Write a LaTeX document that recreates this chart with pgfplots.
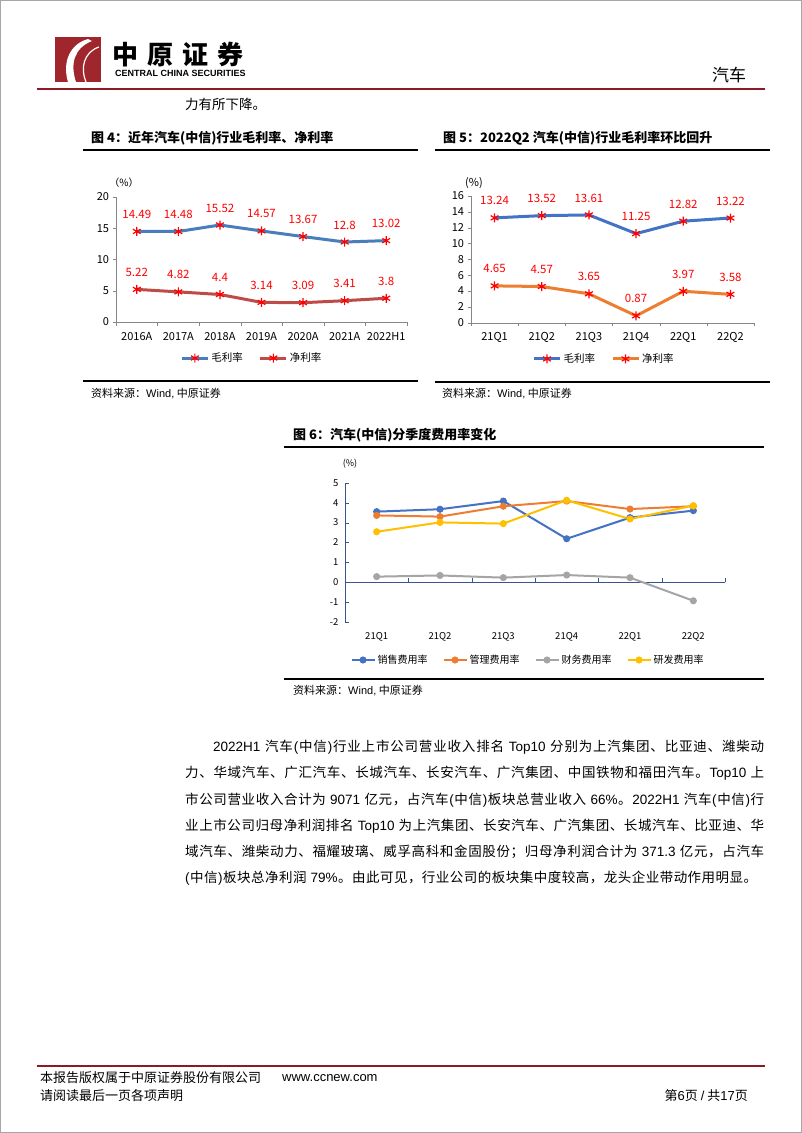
\documentclass[border=0pt]{standalone}
\usepackage{fontspec}
\usepackage{pgfplots}
\pgfplotsset{compat=1.18}
\usepackage{graphicx}
\setmainfont{Noto Sans CJK SC}
\newfontfamily\lat{Liberation Sans}
\definecolor{hdred}{RGB}{140,26,36}
\definecolor{logored}{RGB}{160,38,46}
\definecolor{c4blue}{RGB}{74,126,187}
\definecolor{c4red}{RGB}{190,75,72}
\definecolor{c5blue}{RGB}{68,114,196}
\definecolor{c5orange}{RGB}{237,125,49}
\definecolor{c6gray}{RGB}{165,165,165}
\definecolor{c6yellow}{RGB}{255,192,0}
\definecolor{axgray}{RGB}{134,134,134}
\definecolor{ax6}{RGB}{55,85,145}
\definecolor{lblred}{RGB}{255,0,0}
\newcommand{\fs}[1]{\fontsize{#1}{#1}\selectfont}
\def\spread#1{\spaux#1\relax}
\def\spaux#1{\ifx\relax#1\else{#1}\hskip0pt plus 1fil\relax\expandafter\spaux\fi}
\newcommand{\jline}[2]{\hbox to #1{\spread{#2}\unskip}}
\pgfplotsset{
  topchart/.style={
    scale only axis, anchor=south west,
    axis x line*=bottom, axis y line*=left,
    axis line style={axgray,-}, tick style={axgray},
    tick align=outside, major tick length=3.5pt,
    x tick label as interval,
    xticklabel style={yshift=-3pt},
    /pgf/number format/assume math mode=true,
    tick label style={font=\fs{11}},
    point meta=explicit symbolic,
    nodes near coords,
    every node near coord/.append style={font=\fs{11.5}, text=lblred, anchor=center, yshift=17pt},
    legend style={draw=none, fill=none, legend columns=-1, font=\fs{10.5},
      /tikz/every even column/.append style={column sep=14pt}},
    legend image code/.code={\draw[mark repeat=2,mark phase=2,##1] plot coordinates {(0pt,0pt)(13pt,0pt)(26pt,0pt)};},
    clip=false,
  },
  astline/.style={line width=3pt, mark=asterisk, mark size=4.5pt, mark options={lblred, line width=1.2pt}},
}
\begin{document}
\begin{tikzpicture}
\path[use as bounding box] (0,0) rectangle (802pt,-1133pt);
\fill[white] (0,0) rectangle (802pt,-1133pt);
\draw[gray!70, line width=1pt] (0.5pt,-0.5pt) rectangle (801.5pt,-1132.5pt);
% ---- header
\fill[logored] (55pt,-37pt) rectangle (101pt,-82pt);
\fill[white] (88pt,-39pt) .. controls (70pt,-44pt) and (62pt,-62pt) .. (68pt,-82pt) -- (76pt,-82pt) .. controls (70pt,-64pt) and (74pt,-48pt) .. (92pt,-41pt) -- cycle;
\draw[white, line width=1.2pt] (99pt,-47pt) .. controls (84pt,-52pt) and (80pt,-68pt) .. (86pt,-82pt);
\node[anchor=west, inner sep=0pt, font=\fs{26}\bfseries] at (112pt,-55pt) {中\hspace{9pt}原\hspace{9pt}证\hspace{9pt}券};
\node[anchor=west, inner sep=0pt, font=\lat\bfseries\fs{9}] at (115pt,-73.5pt) {CENTRAL CHINA SECURITIES};
\node[inner sep=0pt, font=\fs{17}] at (729pt,-75pt) {汽车};
\draw[hdred, line width=2.5pt] (37pt,-89pt) -- (765pt,-89pt);
\node[anchor=west, inner sep=0pt, font=\fs{13.5}] at (185pt,-104pt) {力有所下降。};
% ---- titles and rules
\node[anchor=west, inner sep=0pt, font=\fs{13}\bfseries] at (91pt,-138pt) {图 4：近年汽车(中信)行业毛利率、净利率};
\draw[black, line width=1.6pt] (83pt,-150pt) -- (418pt,-150pt);
\draw[black, line width=1.6pt] (83pt,-381pt) -- (418pt,-381pt);
\node[anchor=west, inner sep=0pt, font=\fs{11}] at (91pt,-394pt) {资料来源：{\lat Wind,} 中原证券};
\node[anchor=west, inner sep=0pt, font=\fs{13}\bfseries] at (443pt,-138pt) {图 5：2022Q2 汽车(中信)行业毛利率环比回升};
\draw[black, line width=1.6pt] (435pt,-150pt) -- (770pt,-150pt);
\draw[black, line width=1.6pt] (435pt,-382pt) -- (770pt,-382pt);
\node[anchor=west, inner sep=0pt, font=\fs{11}] at (442pt,-394pt) {资料来源：{\lat Wind,} 中原证券};
\node[anchor=west, inner sep=0pt, font=\fs{13}\bfseries] at (293pt,-435pt) {图 6：汽车(中信)分季度费用率变化};
\draw[black, line width=1.6pt] (284pt,-447pt) -- (764pt,-447pt);
\draw[black, line width=1.6pt] (284pt,-679pt) -- (764pt,-679pt);
\node[anchor=west, inner sep=0pt, font=\fs{11}] at (293pt,-691pt) {资料来源：{\lat Wind,} 中原证券};
\node[font=\fs{10}] at (124pt,-183pt) {（\%）};
\node[font=\fs{11}] at (474pt,-183pt) {(\%)};
\node[font=\fs{9}] at (350pt,-464pt) {(\%)};
% ---- chart 4
\begin{axis}[topchart, at={(116pt,-322pt)}, width=291pt, height=125pt,
  xmin=-0.5, xmax=6.5, ymin=0, ymax=20, ytick={0,5,10,15,20},
  xtick={-0.5,0.5,1.5,2.5,3.5,4.5,5.5,6.5},
  xticklabels={2016A,2017A,2018A,2019A,2020A,2021A,2022H1},
  legend style={at={(0.467,-0.288)}, anchor=center}]
\addplot[c4blue, astline] coordinates {(0,14.49)[14.49] (1,14.48)[14.48] (2,15.52)[15.52] (3,14.57)[14.57] (4,13.67)[13.67] (5,12.8)[12.8] (6,13.02)[13.02]};
\addlegendentry{毛利率}
\addplot[c4red, astline] coordinates {(0,5.22)[5.22] (1,4.82)[4.82] (2,4.4)[4.4] (3,3.14)[3.14] (4,3.09)[3.09] (5,3.41)[3.41] (6,3.8)[3.8]};
\addlegendentry{净利率}
\end{axis}
% ---- chart 5
\begin{axis}[topchart, at={(471pt,-322.7pt)}, width=283pt, height=126.7pt,
  xmin=-0.5, xmax=5.5, ymin=0, ymax=16, ytick={0,2,4,6,8,10,12,14,16},
  xtick={-0.5,0.5,1.5,2.5,3.5,4.5,5.5},
  xticklabels={21Q1,21Q2,21Q3,21Q4,22Q1,22Q2},
  legend style={at={(0.47,-0.286)}, anchor=center}]
\addplot[c5blue, astline] coordinates {(0,13.24)[13.24] (1,13.52)[13.52] (2,13.61)[13.61] (3,11.25)[11.25] (4,12.82)[12.82] (5,13.22)[13.22]};
\addlegendentry{毛利率}
\addplot[c5orange, astline] coordinates {(0,4.65)[4.65] (1,4.57)[4.57] (2,3.65)[3.65] (3,0.87)[0.87] (4,3.97)[3.97] (5,3.58)[3.58]};
\addlegendentry{净利率}
\end{axis}
% ---- chart 6
\begin{axis}[scale only axis, anchor=south west, at={(345pt,-622.3pt)}, width=380pt, height=139.6pt,
  xmin=-0.5, xmax=5.5, ymin=-2, ymax=5, ytick={-2,-1,0,1,2,3,4,5},
  xtick={-0.5,0.5,1.5,2.5,3.5,4.5,5.5}, x tick label as interval,
  xticklabels={21Q1,21Q2,21Q3,21Q4,22Q1,22Q2},
  axis x line*=middle, axis y line*=left, axis line style={ax6,-}, tick style={ax6},
  tick align=inside, major tick length=4pt,
  hide obscured x ticks=false, hide obscured y ticks=false,
  xticklabel style={yshift=-46pt},
  yticklabel style={xshift=-3pt},
  /pgf/number format/assume math mode=true,
  tick label style={font=\fs{9.5}},
  legend style={at={(0.4816,-0.27)}, anchor=center, draw=none, fill=none, legend columns=-1, font=\fs{10},
    /tikz/every even column/.append style={column sep=13pt}},
  legend image code/.code={\draw[mark repeat=2,mark phase=2,#1] plot coordinates {(0pt,0pt)(11.5pt,0pt)(23pt,0pt)};},
  every axis plot/.append style={line width=2pt, mark=*, mark size=2.5pt},
  clip=false]
\addplot[c5blue, mark options={fill=c5blue}] coordinates {(0,3.55) (1,3.67) (2,4.08) (3,2.19) (4,3.25) (5,3.6)};
\addlegendentry{销售费用率}
\addplot[c5orange, mark options={fill=c5orange}] coordinates {(0,3.36) (1,3.3) (2,3.82) (3,4.08) (4,3.68) (5,3.82)};
\addlegendentry{管理费用率}
\addplot[c6gray, mark options={fill=c6gray}] coordinates {(0,0.29) (1,0.35) (2,0.24) (3,0.37) (4,0.24) (5,-0.92)};
\addlegendentry{财务费用率}
\addplot[c6yellow, mark options={fill=c6yellow}] coordinates {(0,2.54) (1,3.01) (2,2.95) (3,4.12) (4,3.18) (5,3.85)};
\addlegendentry{研发费用率}
\end{axis}
% ---- body text
\begin{scope}[every node/.style={inner sep=0pt, anchor=west, font=\fs{13.5}}]
\node at (213pt,-747pt) {\jline{551pt}{{\lat 2022H1}~汽车{\lat (}中信{\lat )}行业上市公司营业收入排名~{\lat Top10}~分别为上汽集团、比亚迪、潍柴动}};
\node at (185pt,-773pt) {\jline{579pt}{力、华域汽车、广汇汽车、长城汽车、长安汽车、广汽集团、中国铁物和福田汽车。{\lat Top10}~上}};
\node at (185pt,-800pt) {\jline{579pt}{市公司营业收入合计为~{\lat 9071}~亿元，占汽车{\lat (}中信{\lat )}板块总营业收入~{\lat 66\%}。{\lat 2022H1}~汽车{\lat (}中信{\lat )}行}};
\node at (185pt,-826pt) {\jline{579pt}{业上市公司归母净利润排名~{\lat Top10}~为上汽集团、长安汽车、广汽集团、长城汽车、比亚迪、华}};
\node at (185pt,-852pt) {\jline{579pt}{域汽车、潍柴动力、福耀玻璃、威孚高科和金固股份；归母净利润合计为~{\lat 371.3}~亿元，占汽车}};
\node at (185pt,-878pt) {\jline{572pt}{{\lat (}中信{\lat )}板块总净利润~{\lat 79\%}。由此可见，行业公司的板块集中度较高，龙头企业带动作用明显。}};
\end{scope}
% ---- footer
\draw[hdred, line width=2pt] (37pt,-1066pt) -- (765pt,-1066pt);
\node[anchor=west, inner sep=0pt, font=\fs{13}] at (40pt,-1078pt) {本报告版权属于中原证券股份有限公司};
\node[anchor=west, inner sep=0pt, font=\lat\fs{13}] at (282pt,-1078pt) {www.ccnew.com};
\node[anchor=west, inner sep=0pt, font=\fs{13}] at (40pt,-1096pt) {请阅读最后一页各项声明};
\node[anchor=east, inner sep=0pt, font=\fs{13}] at (748pt,-1096pt) {第{\lat 6}页 {\lat /} 共{\lat 17}页};
\end{tikzpicture}
\end{document}
